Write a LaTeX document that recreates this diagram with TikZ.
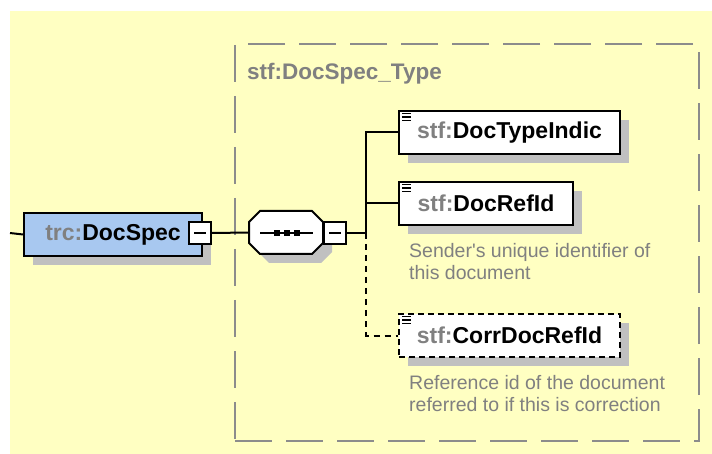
\documentclass[tikz,border=0pt]{standalone}
\usepackage{fontspec}
\setmainfont{Liberation Sans}[Ligatures=TeXOff]
\usetikzlibrary{shadows}
\definecolor{bgyellow}{HTML}{FFFFC2}
\definecolor{elblue}{HTML}{A8C8F0}
\definecolor{shadowgray}{HTML}{C0C0C0}
\definecolor{txtgray}{HTML}{808080}
\definecolor{boxgray}{HTML}{8C8C8C}
\tikzset{
  elemshadow/.style={drop shadow={shadow xshift=9pt,shadow yshift=-9pt,fill=shadowgray,opacity=1}},
  elem/.style={draw=black,line width=2pt,fill=white,minimum height=43pt,inner sep=0pt,
    anchor=north west,font=\fontsize{23}{27}\selectfont\bfseries,elemshadow},
  minusbox/.style={draw=black,line width=2pt,fill=white,minimum size=22pt,inner sep=0pt},
  minusline/.style={draw=black,line width=2pt},
  conn/.style={draw=black,line width=2pt},
  optconn/.style={draw=black,line width=2pt,dash pattern=on 6pt off 5pt},
  desc/.style={anchor=north west,inner sep=0pt,align=left,text=txtgray,
    font=\fontsize{19.5}{22.5}\selectfont},
  iconline/.style={draw=black,line width=1.2pt},
  seqshape/.style={draw=black,line width=2pt,fill=white},
}
\newcommand\elemicon[1]{%
  \draw[iconline] ([shift={(4,3.5)}]#1.north west) -- ++(9,0);
  \draw[iconline] ([shift={(4,7)}]#1.north west) -- ++(9,0);
  \draw[iconline] ([shift={(4,10.5)}]#1.north west) -- ++(9,0);
}
\begin{document}
\begin{tikzpicture}[x=1pt,y=-1pt]
\useasboundingbox (0,0) rectangle (712,454);
\fill[bgyellow] (10,11) rectangle (712,454);

% complex type box
\node[draw=boxgray,line width=2pt,dash pattern=on 37pt off 14pt,minimum width=464pt,
  minimum height=397pt,anchor=north west,inner sep=0pt] (typebox) at (234,43) {};
\node[anchor=base west,inner sep=0pt,text=txtgray,font=\fontsize{22.5}{26}\selectfont\bfseries]
  (typelabel) at (247,80) {stf:DocSpec\_Type};

% root element
\coordinate (in) at (10,233);
\node[elem,fill=elblue,minimum width=178pt] (docspec) at (23,212)
  {{\color{txtgray}trc:}DocSpec\hspace{10pt}};
\node[minusbox] (m1) at (200,233) {};
\draw[minusline] ([xshift=-6pt]m1.center) -- ([xshift=6pt]m1.center);

% sequence compositor (octagon)
\node[minimum width=74pt,minimum height=43pt,inner sep=0pt] (seq) at (286,232.5) {};
\fill[shadowgray,shift={(9,9)}] (260,211) -- (312,211) -- (323,222) -- (323,243)
  -- (312,254) -- (260,254) -- (249,243) -- (249,222) -- cycle;
\draw[seqshape] (260,211) -- (312,211) -- (323,222) -- (323,243)
  -- (312,254) -- (260,254) -- (249,243) -- (249,222) -- cycle;
\draw[line width=2pt] (260,233) -- (313,233);
\foreach \sx in {277,287,297}
  \fill[black] (\sx-3,233-3) rectangle (\sx+3,233+3);
\node[minusbox] (m2) at (335,233) {};
\draw[minusline] ([xshift=-6pt]m2.center) -- ([xshift=6pt]m2.center);
\coordinate (trunk) at (366,233);

% child elements
\node[elem,minimum width=221pt] (dti) at (398,110) {{\color{txtgray}stf:}DocTypeIndic};
\elemicon{dti}
\node[elem,minimum width=174pt] (dri) at (398,181) {{\color{txtgray}stf:}DocRefId};
\elemicon{dri}
\node[desc] (dridesc) at (409,243) {Sender's unique identifier of\\this document};
\node[elem,minimum width=221pt,dash pattern=on 6pt off 4pt] (cdri) at (398,313)
  {{\color{txtgray}stf:}CorrDocRefId};
\elemicon{cdri}
\node[desc] (cdridesc) at (409,375) {Reference id of the document\\referred to if this is correction};

% connectors
\draw[conn] (in) -- (docspec.west);
\draw[conn] (m1.east) -- (seq.west);
\draw[conn] (m2.east) -- (trunk);
\draw[conn] (trunk) |- (dti.west);
\draw[conn] (trunk) |- (dri.west);
\draw[optconn] (trunk) |- (cdri.west);
\end{tikzpicture}
\end{document}
